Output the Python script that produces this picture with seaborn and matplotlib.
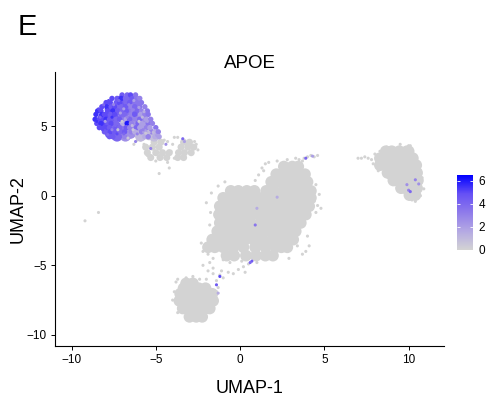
import pandas as pd
import matplotlib
matplotlib.use('Agg')
import matplotlib.pyplot as plt
from matplotlib.colors import LinearSegmentedColormap, Normalize
from matplotlib.cm import ScalarMappable
import seaborn as sns

# big grey dots, one row per y value (UMAP-2: UMAP-1 values)
central_rows = {
    2.1: [2.6, 3.1, 3.45],
    1.55: [2.15, 2.6, 3.05, 3.5, 3.85],
    1.0: [1.85, 2.35, 2.8, 3.3, 3.75, 4.0],
    0.35: [-0.55, -0.1, 0.4, 0.85, 1.55, 2.0, 2.55, 3.0, 3.5, 3.95, 4.2],
    -0.15: [-1.0, -0.6, -0.2, 0.3, 0.8, 1.3, 1.8, 2.3, 2.8, 3.3, 3.8, 4.2],
    -0.75: [-1.2, -0.75, -0.3, 0.2, 0.7, 1.2, 1.7, 2.2, 2.7, 3.2, 3.7, 4.1],
    -1.35: [-1.25, -0.9, -0.4, 0.1, 0.6, 1.1, 1.6, 2.1, 2.6, 3.1, 3.6, 3.9],
    -1.95: [-1.2, -0.8, -0.3, 0.2, 0.65, 1.25, 1.7, 2.2, 2.7, 3.2, 3.6],
    -2.55: [-1.35, -1.0, -0.5, 0.0, 0.5, 1.0, 1.5, 2.0, 2.5, 3.0, 3.3],
    -3.15: [-1.65, -1.15, -0.7, -0.2, 0.3, 0.8, 1.3, 1.9, 2.4, 2.8, 3.15],
    -3.7: [-1.9, -1.5, -1.0, -0.4, 0.2, 0.9, 1.5, 2.1, 2.45, 2.8],
    -4.3: [-0.8, -0.35, 0.35, 0.95, 1.5, 1.95],
}
bottom_rows = {
    -6.3: [-3.2, -2.8],
    -6.65: [-3.35, -2.95, -2.45, -2.05],
    -7.05: [-3.55, -3.15, -2.7, -2.25, -1.9, -1.65],
    -7.55: [-3.6, -3.2, -2.7, -2.2, -1.85, -1.6],
    -8.1: [-3.4, -3.0, -2.55, -2.05, -1.8],
    -8.7: [-3.0, -2.6, -2.25],
}
right_rows = {
    3.2: [8.65, 9.0, 9.45, 9.9, 10.0],
    2.7: [8.3, 8.6, 9.0, 9.45, 9.9, 10.25],
    2.2: [8.3, 8.65, 9.05, 9.5, 10.0, 10.45],
    1.65: [8.75, 9.05, 9.45, 9.95, 10.5],
    1.1: [9.1, 9.4, 9.85, 10.35, 10.55],
    0.55: [9.55, 9.8, 10.2, 10.5],
    0.05: [10.05, 10.4],
}
# medium grey dots, the two small lumps under the purple cluster
upper_rows = {
    3.85: [-3.35, -3.0, -5.1, -4.7],
    3.5: [-5.6, -5.2, -4.8, -3.5, -3.1, -2.75],
    3.1: [-5.5, -5.0, -4.6, -4.2, -3.65, -3.3, -2.9],
    2.75: [-5.3, -4.75, -4.35, -3.7, -3.35],
}

# small grey dots, edges of the clusters and strays
grey_x = [-9.2, -8.4, -5.7, -5.9, -6.1, -6.3, -4.5, -4.3, -4.1, -4.0, -3.9, -3.7, -2.7,
          -2.6, -2.5, -4.2, -4.3, -4.8, -3.9, -5.0, -5.5,
          3.8, 4.0, 4.2, 4.4, 4.6, 3.7, 3.5, 3.3, 1.5, 1.3, 1.1, 1.4, 0.9, 4.7, 4.8, 4.5,
          -0.9, -1.3, -1.7, -2.0, -2.3, -2.2, -1.9, -1.6, -1.0, -0.6, 4.0, 4.1, 3.9, 3.7,
          3.4, 2.9, 0.5, 0.1, 0.2, 1.0, 1.7, 2.2, 2.8, 4.5, 4.4, 4.6, -1.75, -1.8, -1.6,
          -3.9, -4.0, -3.8, -3.7, -3.2, -2.8, -2.4, -2.0, -1.6, -1.4, -1.3, -1.4, -1.5,
          -1.2, -1.1, -1.6, -1.9, -2.2, -1.8, -1.0, -0.7, -0.4, -0.1, 0.3, -3.7, -2.5,
          7.0, 7.2, 7.4, 7.6, 7.8, 8.0, 7.9, 8.1, 8.2, 8.3, 8.6, 8.8, 9.1, 10.7, 10.8,
          10.6, 10.9, 10.7, 10.2, 9.9, 10.4, 10.0, 9.5, 8.7, 9.4, 10.1, 8.4, 8.3, 8.5]
grey_y = [-1.8, -1.2, 3.7, 4.0, 4.0, 3.7, 4.0, 3.9, 3.2, 3.7, 4.2, 4.2, 3.9,
          3.7, 3.3, 2.0, 2.4, 1.6, 2.7, 2.5, 2.9,
          2.7, 2.8, 2.9, 2.8, 2.9, 2.5, 2.6, 2.7, 2.3, 2.0, 1.5, 1.8, 1.1, 0.1, -0.9, -1.2,
          1.0, 0.7, 0.2, -0.5, -3.4, -4.0, -4.2, -4.5, -4.6, -4.8, -2.9, -3.6, -4.0, -4.2,
          -3.6, -4.5, -4.9, -4.7, -5.1, -4.8, 2.4, 2.5, 2.6, 0.8, -0.4, -0.7, -1.2, -2.1, -2.9,
          -6.9, -7.5, -6.2, -6.0, -5.9, -5.8, -6.0, -6.0, -5.6, -6.1, -6.6, -6.9, -7.3,
          -5.7, -5.4, -5.2, -5.4, -5.0, -4.8, -5.9, -5.5, -5.6, -5.3, -5.5, -8.4, -8.9,
          2.7, 2.7, 2.8, 2.7, 2.6, 3.0, 2.3, 2.2, 1.8, 3.2, 1.7, 1.3, 0.9, 1.8, 1.3,
          0.9, 0.5, 0.0, -0.3, -0.1, -0.4, 3.6, 3.7, 3.5, 0.6, 3.6, 2.5, 2.9, 3.4]

# purple cluster: under-layer
under_x = [-7.1, -6.6, -6.2, -7.7, -7.2, -6.6, -6.1, -8.1, -7.5, -6.9, -6.3, -5.8, -8.0,
           -7.4, -6.8, -6.2, -5.6, -7.7, -7.1, -6.5, -5.9, -5.4, -7.3, -6.8, -5.9, -5.4, -5.1]
under_y = [6.8, 6.8, 6.6, 6.2, 6.2, 6.2, 6.0, 5.6, 5.6, 5.6, 5.6, 5.5, 5.0,
           5.0, 5.0, 5.0, 4.9, 4.5, 4.5, 4.5, 4.6, 4.5, 4.3, 4.3, 4.3, 4.4, 4.3]
under_expr = [4.5, 4, 3.5, 4.5, 4, 3.5, 3, 5, 4.5, 3.5, 3, 2.5, 5,
              4, 3.5, 2.5, 2, 4.5, 3.5, 2.5, 2, 1.5, 4, 2.5, 1, 0.8, 0.8]

# purple cluster: small dots, row by row
blue_rows = [
    (7.25, [-7.0, -6.7, -6.5, -6.2], [4.5, 4, 5, 3.5]),
    (7.0, [-7.6, -7.3, -7.05, -6.8, -6.4, -6.15, -5.95], [5, 4.5, 5.5, 4, 4.5, 3.5, 3]),
    (6.7, [-7.95, -7.7, -7.35, -7.15, -6.75, -6.55, -6.15, -5.85], [5, 5, 4.5, 5, 4, 4.5, 3.5, 3.5]),
    (6.4, [-8.2, -7.9, -7.65, -7.45, -7.05, -6.8, -6.45, -6.25, -5.95, -5.65], [5, 5.5, 4.5, 5, 4, 4.5, 3, 4, 3.5, 3]),
    (6.1, [-8.45, -8.25, -7.85, -7.55, -7.25, -7.0, -6.75, -6.35, -6.1, -5.85, -5.5], [5.5, 5, 5, 5.5, 4.5, 4, 4.5, 3, 4, 3, 3.5]),
    (5.85, [-8.55, -8.2, -8.05, -7.7, -7.45, -7.05, -6.85, -6.45, -6.25, -5.9, -5.65, -5.45], [5.5, 5.5, 5, 4.5, 5, 4, 4, 3, 4.5, 2, 3, 3.5]),
    (5.5, [-8.6, -8.35, -7.95, -7.75, -7.35, -7.15, -6.75, -6.55, -6.15, -5.95, -5.55, -5.3], [5.5, 5, 5.5, 4.5, 4, 4.5, 2, 4, 3, 4, 2, 3]),
    (5.2, [-8.5, -8.25, -7.85, -7.65, -7.35, -6.95, -6.7, -6.45, -6.05, -5.85, -5.45, -5.2], [5, 5.5, 4.5, 5, 4, 1.5, 6, 3, 4, 2, 3.5, 3]),
    (4.9, [-8.35, -7.95, -7.75, -7.35, -7.15, -6.75, -6.55, -6.15, -5.95, -5.55, -5.35, -5.0], [5, 5, 4.5, 4.5, 4, 4.5, 3, 4, 2, 3, 2, 3.5]),
    (4.6, [-8.05, -7.7, -7.45, -7.05, -6.85, -6.45, -6.25, -5.85, -5.65, -5.25, -5.05, -4.85], [4.5, 5, 4.5, 4, 4.5, 3, 1.5, 3, 2, 3, 1.5, 3]),
    (4.25, [-7.75, -7.55, -7.15, -6.85, -5.65, -5.45, -5.05, -4.8], [4.5, 4.5, 4, 3, 1.5, 3, 1.5, 2]),
]
# fine dots to break up the rows
fine_x = [-8.4, -8.1, -7.8, -7.5, -7.2, -6.9, -6.6, -6.3, -6.0, -5.7, -8.3, -7.9, -7.6, -7.1,
          -6.7, -6.3, -5.8, -5.5, -8.5, -8.0, -7.4, -7.0, -6.4, -6.0, -5.3, -8.15, -7.6, -7.25,
          -6.9, -6.35, -5.75, -5.4, -7.85, -7.3, -6.65, -6.1, -5.6, -5.15, -4.95, -6.05]
fine_y = [6.25, 6.55, 6.85, 6.55, 6.85, 6.25, 6.55, 6.85, 6.35, 6.05, 5.65, 5.95, 5.65, 5.95,
          5.65, 5.95, 5.65, 5.35, 5.35, 5.35, 5.05, 5.35, 5.05, 5.35, 4.85, 4.75, 4.75, 4.75,
          4.45, 4.75, 4.75, 4.55, 4.4, 4.45, 4.15, 4.45, 4.5, 4.55, 4.35, 7.05]
fine_expr = [5, 4, 5, 3, 4, 2, 3, 2, 2, 1.5, 4, 5, 5.5, 2, 3, 4.5, 1, 2, 5.5, 2, 4, 0.5, 1, 0.5, 2, 5, 3, 0.5,
             4, 0.5, 3, 1, 4, 5, 0.5, 3, 0.5, 1, 2, 3]

# expressing cells scattered in the other clusters
spot_x = [-6.2, -5.3, -4.4, -3.4, -3.3, 3.9, 4.3, 0.9, 0.7, 0.6, -1.2, -1.4, 1.0, 2.2, 10.0, 10.4, 9.9, 10.1, 10.6, -1.3]
spot_y = [3.9, 3.4, 3.7, 4.1, 3.9, 2.7, 2.85, -2.1, -4.7, -4.8, -5.8, -6.4, -0.9, -0.1, 0.4, 1.15, 0.8, 0.3, 0.85, -7.0]
spot_expr = [3, 3, 2.5, 4, 2, 4, 2, 3.5, 4.5, 4, 5, 4.5, 1.5, 1.5, 3, 3, 2.5, 4, 2.5, 1.5]

x_ticks = [-10, -5, 0, 5, 10]
y_ticks = [-10, -5, 0, 5]
bar_ticks = [0, 2, 4, 6]


def rows_to_frame(rows):
    x = [v for row in rows.values() for v in row]
    y = [k for k, row in rows.items() for v in row]
    return pd.DataFrame({'x': x, 'y': y, 'expr': 0.0})


big = pd.concat([rows_to_frame(central_rows), rows_to_frame(bottom_rows), rows_to_frame(right_rows)])
upper = rows_to_frame(upper_rows)
fringe = pd.DataFrame({'x': grey_x, 'y': grey_y, 'expr': 0.0})
under = pd.DataFrame({'x': under_x, 'y': under_y, 'expr': under_expr})
blue = pd.DataFrame({
    'x': [v for r in blue_rows for v in r[1]],
    'y': [r[0] for r in blue_rows for v in r[1]],
    'expr': [v for r in blue_rows for v in r[2]],
})
fine = pd.DataFrame({'x': fine_x, 'y': fine_y, 'expr': fine_expr})
spots = pd.DataFrame({'x': spot_x, 'y': spot_y, 'expr': spot_expr})

plt.rcParams['font.family'] = ['Liberation Sans', 'DejaVu Sans']
cmap = LinearSegmentedColormap.from_list('grey_blue', ['lightgrey', '#B4A9E3', '#8F7BEA', '#6650F5', 'blue'])
vmax = 6.5

fig = plt.figure(figsize=(4.91, 4.03), dpi=100)
ax = fig.add_axes([55 / 491, 1 - 346 / 403, 389 / 491, 274 / 403])

# draw layers from big grey to small coloured
layers = [(big, 72), (upper, 26), (fringe, 5), (under, 66), (blue, 15), (fine, 5), (spots, 5)]
for frame, size in layers:
    sns.scatterplot(data=frame, x='x', y='y', hue='expr', palette=cmap, hue_norm=(0, vmax),
                    s=size, linewidth=0, legend=False, ax=ax)

ax.set_xlim(-10.98, 12.1)
ax.set_ylim(-10.8, 8.9)
ax.set_xticks(x_ticks)
ax.set_yticks(y_ticks)
ax.set_xticklabels([str(t).replace('-', '\u2212') for t in x_ticks])
ax.set_yticklabels([str(t).replace('-', '\u2212') for t in y_ticks])
ax.tick_params(labelsize=8.5, length=3, width=0.7, pad=3)
sns.despine(ax=ax)
for side in ['left', 'bottom']:
    ax.spines[side].set_linewidth(0.8)
ax.set_xlabel('UMAP-1', fontsize=13, labelpad=10)
ax.set_ylabel('UMAP-2', fontsize=13, labelpad=0)
ax.set_title('APOE', fontsize=13.5, pad=-3)

fig.text(18 / 491, 1 - 35 / 403, 'E', fontsize=21, color='black')

# colour bar with white inner dashes
cax = fig.add_axes([457 / 491, 1 - 250 / 403, 16 / 491, 75 / 403])
bar = fig.colorbar(ScalarMappable(Normalize(0, vmax), cmap), cax=cax, ticks=bar_ticks)
bar.outline.set_visible(False)
bar.ax.tick_params(length=0, labelsize=8.5, pad=4)
for t in bar_ticks[1:]:
    bar.ax.hlines(t, 0, 0.2, color='white', linewidth=0.6)
    bar.ax.hlines(t, 0.8, 1, color='white', linewidth=0.6)

plt.savefig('out.png', dpi=100)
